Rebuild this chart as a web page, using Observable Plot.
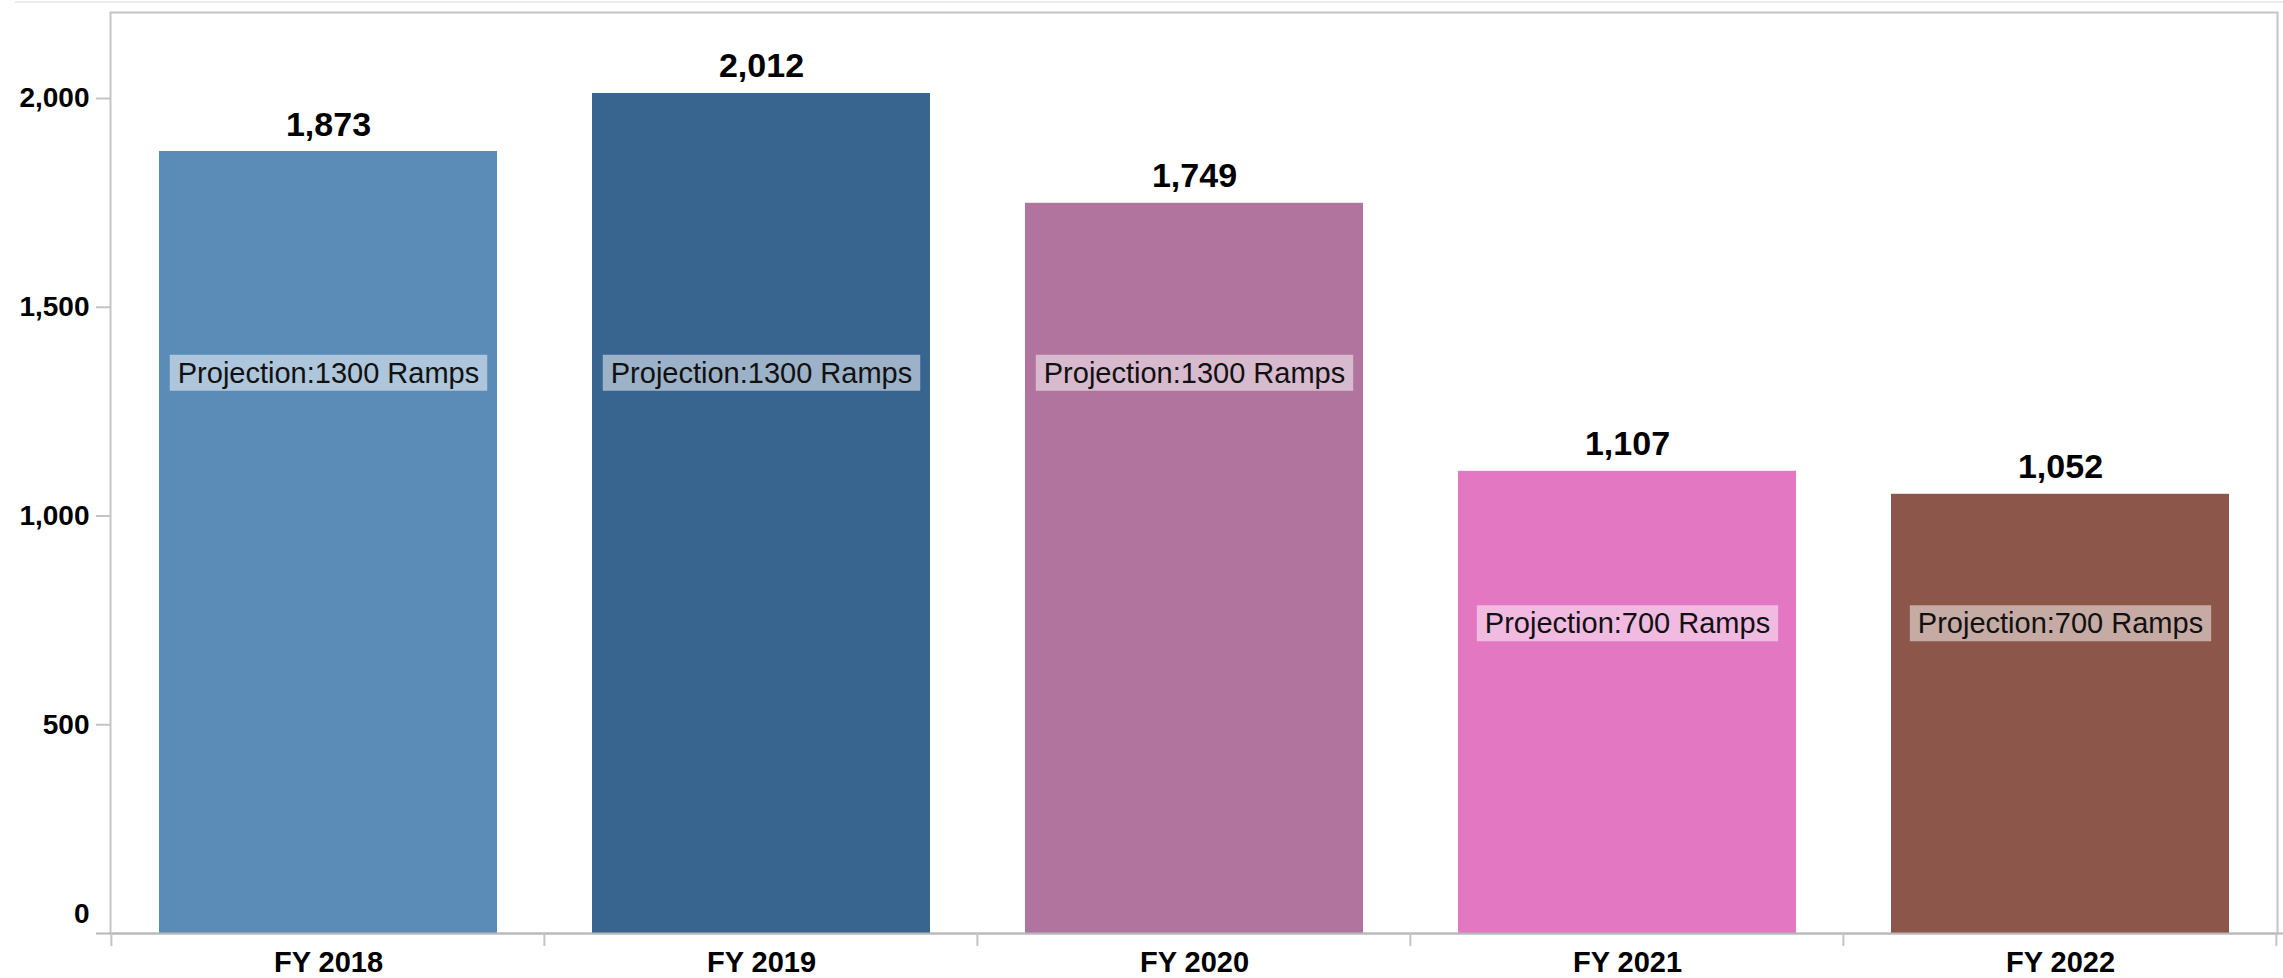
<!DOCTYPE html>
<html><head><meta charset="utf-8">
<script src="https://cdn.jsdelivr.net/npm/d3@7"></script>
<script src="https://cdn.jsdelivr.net/npm/@observablehq/plot@0.6"></script>
<style>body{margin:0;background:#fff;}</style>
</head><body><div id="chart"></div>
<script>
const years = ["FY 2018", "FY 2019", "FY 2020", "FY 2021", "FY 2022"];
const ramps = [1873, 2012, 1749, 1107, 1052];
const projections = [1300, 1300, 1300, 700, 700];
const barColors = ["#5b8cb7", "#386490", "#b0749f", "#e377c2", "#8c564b"];
const yTicks = [0, 500, 1000, 1500, 2000];
const yMax = 2206;

const data = years.map((y, i) => ({year: y, ramps: ramps[i], projection: projections[i]}));
const fmt = d3.format(",");
const PAD_IN = 0.22, PAD_OUT = 0.11;
const gray = "#c4c4c4";

function findArgs(args) {
  const scales = args.find(a => a && typeof a.x === "function" && typeof a.y === "function");
  const dims = args.find(a => a && typeof a === "object" && "marginLeft" in a && "width" in a);
  return {scales, dims};
}

// ticks between categories on the x axis
function boundaryTicks(...args) {
  const {scales} = findArgs(args);
  const x = scales.x, y = scales.y;
  const step = x(years[1]) - x(years[0]);
  const bw = step * (1 - PAD_IN);
  const xs = years.map(d => x(d) + bw / 2 - step / 2);
  xs.push(xs[xs.length - 1] + step);
  const y0 = y(0);
  const g = d3.create("svg:g").attr("stroke", gray).attr("stroke-width", 2);
  g.selectAll("line").data(xs).join("line")
    .attr("x1", d => d).attr("x2", d => d)
    .attr("y1", y0).attr("y2", y0 + 13);
  return g.node();
}

// faint separator line at the very top of the view
function topLine(...args) {
  const {dims} = findArgs(args);
  const g = d3.create("svg:g");
  g.append("line").attr("x1", 15).attr("x2", dims.width).attr("y1", 2).attr("y2", 2)
    .attr("stroke", "#ececec").attr("stroke-width", 2);
  return g.node();
}

const chart = Plot.plot({
  width: 2283, height: 978,
  marginLeft: 110, marginRight: 6, marginTop: 12, marginBottom: 45,
  style: {fontFamily: "Arial, 'Liberation Sans', sans-serif", background: "#fff", color: "#000"},
  x: {domain: years, paddingInner: PAD_IN, paddingOuter: PAD_OUT, label: null},
  y: {domain: [0, yMax], label: null},
  color: {domain: years, range: barColors},
  marks: [
    topLine,
    Plot.frame({stroke: gray, strokeWidth: 2}),
    Plot.barY(data, {x: "year", y: "ramps", fill: "year"}),
    Plot.ruleY([0], {stroke: "#b8b8b8", strokeWidth: 2, insetLeft: -14, insetRight: -6}),
    boundaryTicks,
    Plot.axisY(yTicks.filter(d => d > 0), {tickSize: 14, tickPadding: 7, tickFormat: fmt,
      stroke: gray, strokeWidth: 2, fill: "#000", fontSize: 28, fontWeight: "bold"}),
    Plot.axisY([0], {tickSize: 0, tickPadding: 21, tickFormat: fmt, dy: -19,
      fill: "#000", fontSize: 28, fontWeight: "bold"}),
    Plot.axisX({tickSize: 0, tickPadding: 18, fill: "#000", fontSize: 29, fontWeight: "bold"}),
    Plot.text(data, {x: "year", y: "ramps", text: d => fmt(d.ramps), dy: -16, lineAnchor: "bottom",
      fontSize: 34, fontWeight: "bold", fill: "#000"}),
    Plot.text(data, {x: "year", y: "projection", text: d => `Projection:${d.projection} Ramps`,
      dy: -8, lineAnchor: "bottom", fontSize: 29, fill: "#111", ariaDescription: "projection"})
  ]
});

document.getElementById("chart").append(chart);
const svgEl = chart.tagName.toLowerCase() === "svg" ? chart : chart.querySelector("svg");
const svg = d3.select(svgEl);
const svgRect = svgEl.getBoundingClientRect();
const labelNode = svgEl.querySelector('g[aria-description="projection"]');
if (labelNode) {
  const boxes = [];
  d3.select(labelNode).selectAll("text").each(function() { boxes.push(this.getBoundingClientRect()); });
  const bg = d3.create("svg:g").attr("fill", "#fff").attr("fill-opacity", 0.5);
  boxes.forEach(r => {
    bg.append("rect")
      .attr("x", r.left - svgRect.left - 8)
      .attr("y", r.top - svgRect.top - 2)
      .attr("width", r.width + 16)
      .attr("height", r.height + 4);
  });
  labelNode.parentNode.insertBefore(bg.node(), labelNode);
}
</script>
</body></html>
